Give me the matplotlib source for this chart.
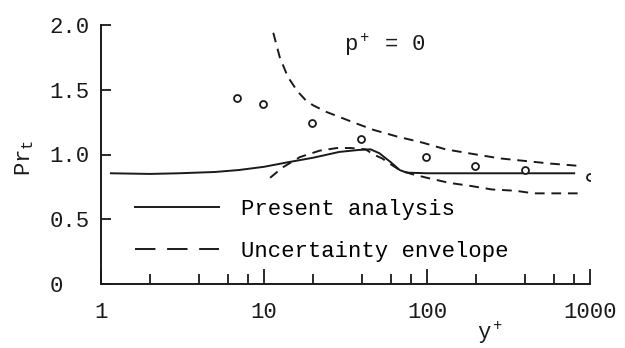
import matplotlib
matplotlib.use("Agg")
import matplotlib.pyplot as plt
from matplotlib.lines import Line2D
from matplotlib.ticker import LogLocator, FixedLocator, NullFormatter

plt.rcParams['font.family'] = ['Liberation Mono', 'DejaVu Sans Mono']
plt.rcParams['mathtext.fontset'] = 'custom'
plt.rcParams['mathtext.rm'] = 'Liberation Mono'
plt.rcParams['mathtext.it'] = 'Liberation Mono'

# data
circ_x = [6.8, 9.8, 19.7, 39.5, 98, 197, 400, 1000]
circ_y = [1.44, 1.39, 1.24, 1.12, 0.98, 0.91, 0.88, 0.83]

solid_x = [1.15, 2, 3, 5, 7, 10, 14, 20, 29, 38, 45, 51, 60, 68, 75, 100, 200, 400, 800]
solid_y = [0.855, 0.85, 0.855, 0.865, 0.88, 0.905, 0.94, 0.975, 1.02, 1.035, 1.04, 1.01,
           0.94, 0.88, 0.86, 0.855, 0.855, 0.855, 0.855]

upper_x = [11.4, 12.5, 14, 16, 18, 20, 24, 29, 35, 47, 65, 95, 130, 200, 280, 400, 570, 900]
upper_y = [1.94, 1.75, 1.60, 1.49, 1.42, 1.38, 1.33, 1.29, 1.25, 1.19, 1.14, 1.09, 1.04,
           1.0, 0.97, 0.95, 0.93, 0.91]

lower_x = [10.9, 13, 16.6, 22, 28, 34, 42, 47, 53, 59, 68, 80, 100, 138, 180, 250, 350, 450, 900]
lower_y = [0.82, 0.90, 0.98, 1.03, 1.05, 1.05, 1.04, 1.0, 0.97, 0.93, 0.88, 0.85, 0.82,
           0.78, 0.76, 0.73, 0.72, 0.70, 0.70]

yticks = [0, 0.5, 1.0, 1.5, 2.0]
ytick_labels = ['0  ', '0.5', '1.0', '1.5', '2.0']
xticks = [1, 10, 100, 1000]
xtick_labels = ['1', '10', '100', '1000']
legend_labels = ['Present analysis', 'Uncertainty envelope']

ink = '#1a1a1a'
fs = 16
fig = plt.figure(figsize=(6.25, 3.48), dpi=100)
ax = fig.add_axes([101 / 625, 1 - 284 / 348, 489 / 625, 259 / 348])

ax.plot(solid_x, solid_y, color=ink, lw=1.4)
ax.plot(upper_x, upper_y, color=ink, lw=1.4, dashes=(5, 3.5))
ax.plot(lower_x, lower_y, color=ink, lw=1.4, dashes=(5, 3.5))
ax.plot(circ_x, circ_y, ls='none', marker='o', ms=5, mfc='white', mec=ink, mew=1.3)

ax.set_xscale('log')
ax.set_xlim(1, 1000)
ax.set_ylim(0, 2.0)
ax.spines['top'].set_visible(False)
ax.spines['right'].set_visible(False)
for s in ('left', 'bottom'):
    ax.spines[s].set_linewidth(1.4)
    ax.spines[s].set_color(ink)

ax.xaxis.set_major_locator(FixedLocator(xticks))
ax.set_xticklabels(xtick_labels)
ax.xaxis.set_minor_locator(LogLocator(base=10, subs=[2, 4, 6, 8]))
ax.xaxis.set_minor_formatter(NullFormatter())
ax.set_yticks(yticks)
ax.set_yticklabels(ytick_labels)
ax.tick_params(axis='x', which='major', direction='in', length=11, width=1.3, pad=13,
               labelsize=fs, colors=ink)
ax.tick_params(axis='x', which='minor', direction='in', length=7, width=1.3, colors=ink)
ax.tick_params(axis='y', direction='in', length=7, width=1.3, pad=8, labelsize=fs, colors=ink)

ax.text(31, 1.85, 'p$^+$ = 0', fontsize=fs, color=ink, ha='left', va='center')
fig.text(490 / 625, 1 - 333 / 348, 'y$^+$', fontsize=fs, color=ink, ha='center', va='center')
fig.text(25 / 625, 1 - 158 / 348, 'Pr$_t$', fontsize=fs, color=ink, rotation=90,
         ha='center', va='center')

# legend keys: the scan shows longer dashes in the key than on the curves
handles = [Line2D([], [], color=ink, lw=1.4),
           Line2D([], [], color=ink, lw=1.4, dashes=(10.5, 6))]
ax.legend(handles, legend_labels, loc='upper left', bbox_to_anchor=(0.07, 0.33),
          frameon=False, fontsize=fs, handlelength=3.75, handletextpad=1.0,
          labelspacing=0.95, borderaxespad=0, borderpad=0)

fig.savefig('out.png', dpi=100)
